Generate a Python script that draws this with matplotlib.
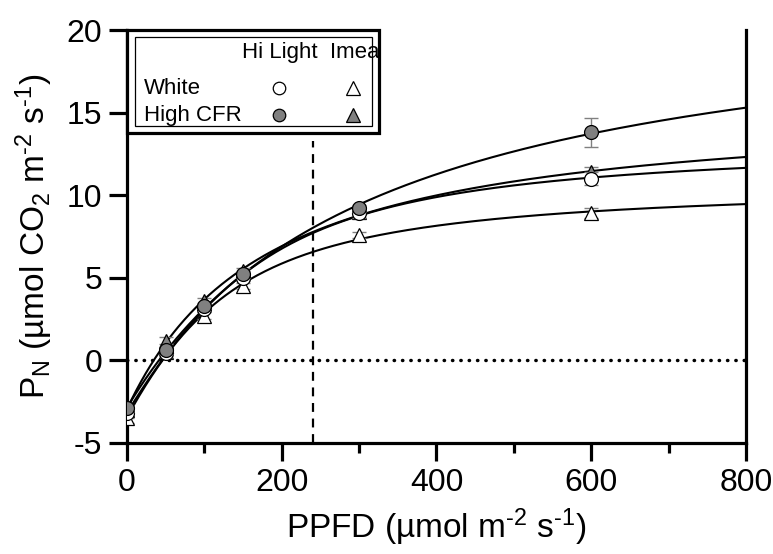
import numpy as np
import matplotlib
matplotlib.use("Agg")
import matplotlib.pyplot as plt
from matplotlib.patches import Rectangle

plt.rcParams['font.family'] = ['Liberation Sans', 'DejaVu Sans']
plt.rcParams['mathtext.fontset'] = 'custom'
plt.rcParams['mathtext.rm'] = 'Liberation Sans'
plt.rcParams['mathtext.it'] = 'Liberation Sans'
plt.rcParams['axes.unicode_minus'] = False

# PPFD levels
ppfd = [0, 50, 100, 150, 300, 600]

# net photosynthesis for each treatment
white_hi = [-3.2, 0.45, 3.1, 5.0, 8.9, 11.0]
cfr_hi = [-2.9, 0.6, 3.3, 5.2, 9.2, 13.8]
white_imea = [-3.5, 0.5, 2.7, 4.5, 7.6, 8.9]
cfr_imea = [-3.0, 1.2, 3.6, 5.4, 9.0, 11.4]

# standard errors
white_hi_err = [0.3, 0.2, 0.2, 0.2, 0.3, 0.4]
cfr_hi_err = [0.2, 0.2, 0.2, 0.2, 0.2, 0.9]
white_imea_err = [0.3, 0.2, 0.2, 0.2, 0.2, 0.3]
cfr_imea_err = [0.2, 0.2, 0.2, 0.2, 0.2, 0.3]

grey = '#808080'


def nrh(x, phi, pm, theta):
    b = phi * x + pm
    return (b - np.sqrt(np.maximum(b ** 2 - 4 * theta * phi * x * pm, 0))) / (2 * theta)


def fit_curve(x, y):
    # non-rectangular hyperbola light response, brute-force grid fit
    x = np.asarray(x, float)
    y = np.asarray(y, float)
    phi = np.linspace(0.02, 0.15, 66)[:, None, None, None]
    pm = np.linspace(6, 30, 97)[None, :, None, None]
    theta = np.linspace(0.05, 0.95, 19)[None, None, :, None]
    g = nrh(x[None, None, None, :], phi, pm, theta)
    rd = np.mean(g - y, axis=-1, keepdims=True)
    sse = np.sum((g - rd - y) ** 2, axis=-1)
    i, j, k = np.unravel_index(np.argmin(sse), sse.shape)
    p, m, t = phi.ravel()[i], pm.ravel()[j], theta.ravel()[k]
    r = rd[i, j, k, 0]
    xx = np.linspace(0, 800, 400)
    return xx, nrh(xx, p, m, t) - r


fig = plt.figure(figsize=(7.73, 5.54), dpi=100)
ax = fig.add_axes([0.1643, 0.2004, 0.8007, 0.7454])

series = [
    (white_imea, white_imea_err, '^', 'white'),
    (cfr_imea, cfr_imea_err, '^', grey),
    (white_hi, white_hi_err, 'o', 'white'),
    (cfr_hi, cfr_hi_err, 'o', grey),
]

for ys, es, m, fc in series:
    xx, yy = fit_curve(ppfd, ys)
    ax.plot(xx, yy, color='black', lw=1.5, zorder=2)

for i, (ys, es, m, fc) in enumerate(series):
    ax.errorbar(ppfd, ys, yerr=es, fmt='none', ecolor=grey, elinewidth=1,
                capsize=5, capthick=1, zorder=3 + i)
    ax.plot(ppfd, ys, linestyle='none', marker=m, ms=10 if m == 'o' else 10.5,
            mfc=fc, mec='black', mew=0.9, zorder=3 + i)

ax.axhline(0, color='black', lw=2.5, linestyle=(0, (0.1, 2.3)),
           dash_capstyle='round', zorder=1)
ax.vlines(240, -5, 13.3, color='black', lw=1.6, linestyles=(0, (4, 3)), zorder=1)

ax.set_xlim(0, 800)
ax.set_ylim(-5, 20)
ax.set_xticks([0, 200, 400, 600, 800])
ax.set_xticks([100, 300, 500, 700], minor=True)
ax.set_yticks([-5, 0, 5, 10, 15, 20])

ax.spines['top'].set_visible(False)
for s in ['left', 'bottom', 'right']:
    ax.spines[s].set_linewidth(2.3)

ax.tick_params(axis='both', which='major', direction='out', length=13,
               width=2.3, labelsize=23, pad=5)
ax.tick_params(axis='x', which='minor', direction='out', length=7, width=2.3)
ax.tick_params(right=False)

ax.set_xlabel('PPFD (µmol m$^{\\text{-2}}$ s$^{\\text{-1}}$)', fontsize=24,
              labelpad=6)
ax.set_ylabel('P$_{\\text{N}}$ (µmol CO$_{\\text{2}}$ m$^{\\text{-2}}$ s$^{\\text{-1}}$)',
              fontsize=24, labelpad=8)

# legend box drawn by hand
def px(x, y):
    return ((x - 127) / (746 - 127), (443 - y) / (443 - 30))

x0, y0 = px(127, 133)
x1, y1 = px(379, 30)
ax.add_patch(Rectangle((x0, y0), x1 - x0, y1 - y0, transform=ax.transAxes,
                       fill=True, fc='white', ec='black', lw=2.3, zorder=10,
                       clip_on=False))
ix0, iy0 = px(135, 126)
ix1, iy1 = px(372, 37)
ax.add_patch(Rectangle((ix0, iy0), ix1 - ix0, iy1 - iy0, transform=ax.transAxes,
                       fill=False, ec='black', lw=0.9, zorder=11, clip_on=False))

tx, ty = px(280, 52)
ax.text(tx, ty, 'Hi Light', transform=ax.transAxes, ha='center', va='center',
        fontsize=16, zorder=12)
tx, ty = px(355, 52)
ax.text(tx, ty, 'Imea', transform=ax.transAxes, ha='center', va='center',
        fontsize=16, zorder=12)
for row_y, label, fc in [(88, 'White', 'white'), (115, 'High CFR', grey)]:
    tx, ty = px(144, row_y)
    ax.text(tx, ty, label, transform=ax.transAxes, ha='left', va='center',
            fontsize=16, zorder=12)
    mx, my = px(279, row_y)
    ax.plot([mx], [my], marker='o', ms=9, mfc=fc, mec='black', mew=0.9,
            transform=ax.transAxes, zorder=12, clip_on=False)
    mx, my = px(353, row_y)
    ax.plot([mx], [my], marker='^', ms=9.5, mfc=fc, mec='black', mew=0.9,
            transform=ax.transAxes, zorder=12, clip_on=False)

fig.savefig('out.png', dpi=100)
